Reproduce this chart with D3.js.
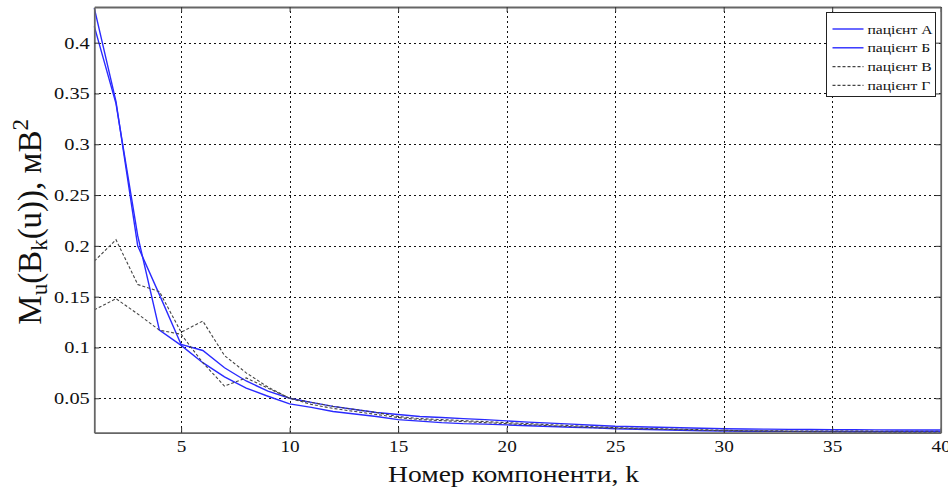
<!DOCTYPE html>
<html>
<head>
<meta charset="utf-8">
<script src="https://cdn.jsdelivr.net/npm/d3@7"></script>
<style>
  body { margin: 0; background: #fff; }
  svg text { font-family: "Liberation Serif", "DejaVu Serif", serif; fill: #111; }
</style>
</head>
<body>
<div id="chart"></div>
<script>
// components k = 1..40
const components = d3.range(1, 41);

const patientA = [0.434, 0.342, 0.200, 0.152, 0.103, 0.097, 0.080, 0.067, 0.057, 0.050,
  0.046, 0.042, 0.039, 0.036, 0.034, 0.032, 0.031, 0.030, 0.029, 0.0277,
  0.0265, 0.0255, 0.0245, 0.0235, 0.0225, 0.022, 0.0215, 0.021, 0.0205, 0.020,
  0.0198, 0.0196, 0.0194, 0.0192, 0.019, 0.019, 0.0189, 0.0188, 0.0188, 0.0188];

const patientB = [0.416, 0.340, 0.210, 0.117, 0.102, 0.085, 0.071, 0.060, 0.052, 0.0445,
  0.041, 0.037, 0.0345, 0.032, 0.029, 0.0275, 0.026, 0.025, 0.0245, 0.0238,
  0.023, 0.0222, 0.0215, 0.021, 0.020, 0.0195, 0.019, 0.0185, 0.018, 0.0178,
  0.0176, 0.0175, 0.0174, 0.0173, 0.0172, 0.0171, 0.017, 0.017, 0.017, 0.017];

const patientV = [0.185, 0.206, 0.162, 0.155, 0.115, 0.126, 0.092, 0.075, 0.061, 0.050,
  0.046, 0.042, 0.039, 0.036, 0.032, 0.030, 0.029, 0.028, 0.027, 0.026,
  0.025, 0.024, 0.023, 0.022, 0.021, 0.0205, 0.020, 0.0195, 0.019, 0.0185,
  0.018, 0.018, 0.0178, 0.0178, 0.0177, 0.0177, 0.0176, 0.0176, 0.0176, 0.0176];

const patientG = [0.137, 0.148, 0.133, 0.117, 0.113, 0.085, 0.062, 0.070, 0.060, 0.050,
  0.044, 0.040, 0.037, 0.034, 0.031, 0.029, 0.028, 0.027, 0.026, 0.025,
  0.024, 0.023, 0.022, 0.021, 0.0205, 0.020, 0.0195, 0.019, 0.0185, 0.018,
  0.0178, 0.0176, 0.0174, 0.0172, 0.017, 0.0168, 0.0166, 0.0164, 0.0162, 0.0161];

const seriesNames = ['пацієнт А', 'пацієнт Б', 'пацієнт В', 'пацієнт Г'];
const xTicks = [5, 10, 15, 20, 25, 30, 35, 40];
const yTicks = [0.05, 0.1, 0.15, 0.2, 0.25, 0.3, 0.35, 0.4];
const yDomain = [0.0161, 0.4351];

const series = [
  { name: seriesNames[0], values: patientA, color: '#2a2aff', dash: null },
  { name: seriesNames[1], values: patientB, color: '#2a2aff', dash: null },
  { name: seriesNames[2], values: patientV, color: '#444', dash: '3,2' },
  { name: seriesNames[3], values: patientG, color: '#444', dash: '3,2' }
];

// the source picture is stretched sideways, so most text is too
const stretch = 1.2;

const W = 948, H = 495;
const margin = { top: 7, right: 7.3, bottom: 62.3, left: 94.3 };
const width = W - margin.left - margin.right;
const height = H - margin.top - margin.bottom;

const svg = d3.select('#chart').append('svg')
  .attr('width', W)
  .attr('height', H);

const chart = svg.append('g')
  .attr('transform', `translate(${margin.left}, ${margin.top})`);

const xScale = d3.scaleLinear().domain([1, 40]).range([0, width]);
const yScale = d3.scaleLinear().domain(yDomain).range([height, 0]);

// grid
chart.append('g')
  .attr('class', 'grid')
  .call(d3.axisLeft(yScale).tickValues(yTicks).tickSize(-width).tickFormat(''))
  .call(g => g.select('.domain').remove())
  .selectAll('line')
  .attr('stroke', '#111')
  .attr('stroke-dasharray', '2,3')
  .attr('shape-rendering', 'crispEdges');

chart.append('g')
  .attr('class', 'grid')
  .attr('transform', `translate(0, ${height})`)
  .call(d3.axisBottom(xScale).tickValues(xTicks).tickSize(-height).tickFormat(''))
  .call(g => g.select('.domain').remove())
  .selectAll('line')
  .attr('stroke', '#111')
  .attr('stroke-dasharray', '2,3')
  .attr('shape-rendering', 'crispEdges');

// lines
const line = d3.line()
  .x((d, i) => xScale(components[i]))
  .y(d => yScale(d));

chart.selectAll('.series')
  .data(series)
  .join('path')
  .attr('class', 'series')
  .attr('fill', 'none')
  .attr('stroke', d => d.color)
  .attr('stroke-width', d => d.dash ? 1.1 : 1.4)
  .attr('stroke-dasharray', d => d.dash)
  .attr('d', d => line(d.values));

// axes (ticks inside like matlab)
const styleAxis = (g, size) => {
  g.select('.domain').attr('stroke', '#666').attr('stroke-width', 1.8);
  g.selectAll('.tick line').attr('stroke', '#333');
  g.selectAll('.tick text')
    .attr('font-family', '"Liberation Serif", serif')
    .style('font-size', size + 'px')
    .attr('fill', '#111');
};
const fmt = d => String(+d.toFixed(2));

chart.append('g')
  .attr('transform', `translate(0, ${height})`)
  .call(d3.axisBottom(xScale).tickValues(xTicks).tickSize(-5).tickSizeOuter(0).tickPadding(8))
  .call(styleAxis, 16)
  .call(g => g.selectAll('.tick text').attr('transform', `scale(${stretch},1)`));

chart.append('g')
  .call(d3.axisLeft(yScale).tickValues(yTicks).tickFormat(fmt).tickSize(-5).tickSizeOuter(0))
  .call(styleAxis, 17)
  .call(g => g.selectAll('.tick text')
    .attr('x', -4.5 / stretch)
    .attr('transform', `scale(${stretch},1)`));

chart.append('g')
  .call(d3.axisTop(xScale).tickValues(xTicks).tickSize(-5).tickSizeOuter(0).tickFormat(''))
  .call(styleAxis, 16);

chart.append('g')
  .attr('transform', `translate(${width}, 0)`)
  .call(d3.axisRight(yScale).tickValues(yTicks).tickSize(-5).tickSizeOuter(0).tickFormat(''))
  .call(styleAxis, 16);

// legend
const legend = svg.append('g')
  .attr('transform', 'translate(826.5, 12.5)');

legend.append('rect')
  .attr('width', 109)
  .attr('height', 84)
  .attr('fill', '#fff')
  .attr('stroke', '#222')
  .attr('stroke-width', 1);

const item = legend.selectAll('.item')
  .data(series)
  .join('g')
  .attr('class', 'item')
  .attr('transform', (d, i) => `translate(0, ${16.5 + i * 18.8})`);

item.append('line')
  .attr('x1', 6).attr('x2', 37)
  .attr('stroke', d => d.color)
  .attr('stroke-width', d => d.dash ? 1.1 : 1.4)
  .attr('stroke-dasharray', d => d.dash);

item.append('text')
  .attr('transform', `translate(41, 0) scale(${stretch},1)`)
  .attr('dy', '0.35em')
  .style('font-size', '13px')
  .text(d => d.name);

// axis titles
svg.append('text')
  .attr('transform', `translate(${margin.left + width / 2 - 4}, 482) scale(${stretch},1)`)
  .attr('text-anchor', 'middle')
  .style('font-size', '23px')
  .text('Номер компоненти, k');

const yTitle = svg.append('text')
  .attr('transform', `translate(41, ${margin.top + height / 2 + 2}) rotate(-90)`)
  .attr('text-anchor', 'middle')
  .style('font-size', '33px');
yTitle.append('tspan').text('M');
yTitle.append('tspan').attr('dy', 6).style('font-size', '23px').text('u');
yTitle.append('tspan').attr('dy', -6).text('(B');
yTitle.append('tspan').attr('dy', 6).style('font-size', '23px').text('k');
yTitle.append('tspan').attr('dy', -6).text('(u)), мB');
yTitle.append('tspan').attr('dy', -13).style('font-size', '23px').text('2');
</script>
</body>
</html>
